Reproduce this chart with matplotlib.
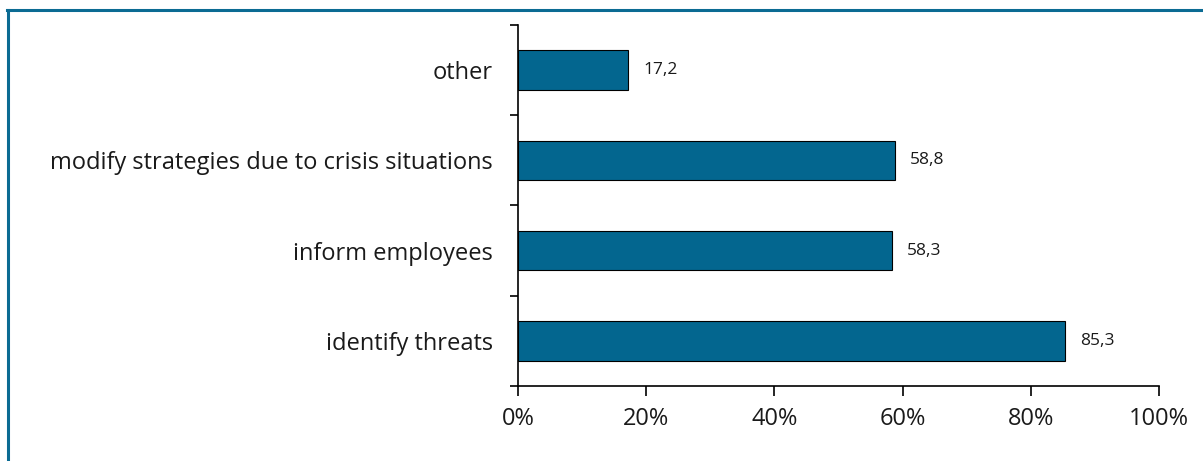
import numpy as np
import matplotlib.pyplot as plt
from matplotlib.lines import Line2D
from matplotlib.ticker import FixedLocator

plt.rcParams['font.family'] = ['Open Sans', 'DejaVu Sans']

# data (bottom to top)
categories = ['identify threats', 'inform employees',
              'modify strategies due to crisis situations', 'other']
values = [85.3, 58.3, 58.8, 17.2]
xticks = [0, 20, 40, 60, 80, 100]

bar_color = '#03668f'

fig = plt.figure(figsize=(12.03, 4.61), dpi=100)
ax = fig.add_axes([0.4306, 0.1627, 0.5328, 0.7831])

y = np.arange(len(categories))
ax.barh(y, values, height=0.44, color=bar_color, edgecolor='black', linewidth=0.8)

for yi, v in zip(y, values):
    ax.annotate(str(v).replace('.', ','), (v, yi), xytext=(11, 0),
                textcoords='offset points', va='center', ha='left',
                fontsize=12.5, color='#1a1a1a')

ax.set_xlim(0, 100)
ax.set_ylim(-0.5, len(categories) - 0.5)
ax.set_xticks(xticks)
ax.set_xticklabels([f'{t}%' for t in xticks], fontsize=17, color='#1a1a1a')
ax.set_yticks(y)
ax.set_yticklabels(categories, fontsize=17, color='#1a1a1a')
ax.yaxis.set_minor_locator(FixedLocator(np.arange(-0.5, len(categories), 1.0)))
ax.tick_params(axis='y', which='major', length=0, pad=18)
ax.tick_params(axis='y', which='minor', length=6, width=1.2, direction='out')
ax.tick_params(axis='x', length=7, width=1.2, direction='out', pad=8)

for s in ['top', 'right']:
    ax.spines[s].set_visible(False)
for s in ['left', 'bottom']:
    ax.spines[s].set_linewidth(1.2)

# frame lines (top and left only)
fig.add_artist(Line2D([7 / 1203, 1], [1 - 10 / 461, 1 - 10 / 461],
                      transform=fig.transFigure, color='#0b6b93', linewidth=2.2))
fig.add_artist(Line2D([8 / 1203, 8 / 1203], [0, 1 - 10 / 461],
                      transform=fig.transFigure, color='#0b6b93', linewidth=2.2))

fig.savefig('out.png', dpi=100)
